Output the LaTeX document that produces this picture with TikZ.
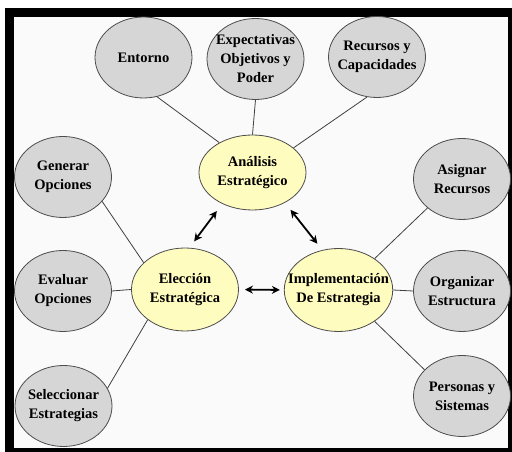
\documentclass[tikz,border=0pt]{standalone}
\usepackage{fontspec}
\setmainfont{Liberation Serif}
\usetikzlibrary{shapes.geometric,arrows.meta}

\begin{document}
\begin{tikzpicture}
		[x=1pt,y=1pt,
		factor/.style={ellipse,draw=black!70,fill=black!16,line width=0.8pt,inner sep=-12pt,
			minimum width=97pt,minimum height=81pt,align=center,
			font=\bfseries\fontsize{14.5}{19}\selectfont},
		stage/.style={ellipse,draw=black!70,fill=yellow!25,line width=0.8pt,inner sep=-12pt,
			minimum width=107pt,minimum height=83pt,align=center,
			font=\bfseries\fontsize{14.5}{19}\selectfont},
		link/.style={draw=black!75,line width=0.8pt},
		flow/.style={<->,>={Stealth[length=8pt,width=8pt]},line width=1.8pt}]
		\useasboundingbox (0,0) rectangle (512,452);
		\fill [black] (5,0) rectangle (512,444);
		\fill [black!2] (14,4) rectangle (508,435);

		\node [stage] (analisis) at (252.5,279.5) [minimum height=75pt] {Análisis\\Estratégico};
		\node [stage] (eleccion) at (185,162.5) {Elección\\Estratégica};
		\node [stage] (implem) at (338.5,162) {Implementación\\De Estrategia};

		\node [factor] (entorno) at (143.5,394.5) {Entorno};
		\node [factor] (expect) at (255.5,393) {Expectativas\\Objetivos y\\Poder};
		\node [factor] (recursos) at (377,395) {Recursos y\\Capacidades};

		\node [factor] (generar) at (63,275) {Generar\\Opciones};
		\node [factor] (evaluar) at (63,161) {Evaluar\\Opciones};
		\node [factor] (seleccionar) at (63.5,46) {Seleccionar\\Estrategias};

		\node [factor] (asignar) at (462,273) {Asignar\\Recursos};
		\node [factor] (organizar) at (462,161) {Organizar\\Estructura};
		\node [factor] (personas) at (462,56) {Personas y\\Sistemas};

		\draw [link] (entorno.289) -- (analisis.138);
		\draw [link] (expect.south) -- (analisis.north);
		\draw [link] (recursos.256) -- (analisis.31);
		\draw [link] (generar.328) -- (eleccion.147);
		\draw [link] (evaluar.east) -- (eleccion.west);
		\draw [link] (seleccionar.22) -- (eleccion.219);
		\draw [link] (asignar.220) -- (implem.41);
		\draw [link] (organizar.west) -- (implem.east);
		\draw [link] (personas.145) -- (implem.319);

		\draw [flow,shorten <=9pt,shorten >=8pt] (analisis.226) -- (eleccion.84);
		\draw [flow,shorten <=9pt,shorten >=8pt] (analisis.317) -- (implem.112);
		\draw [flow,shorten <=6pt,shorten >=4pt] (eleccion.east) -- (implem.west);
	\end{tikzpicture}
\end{document}
